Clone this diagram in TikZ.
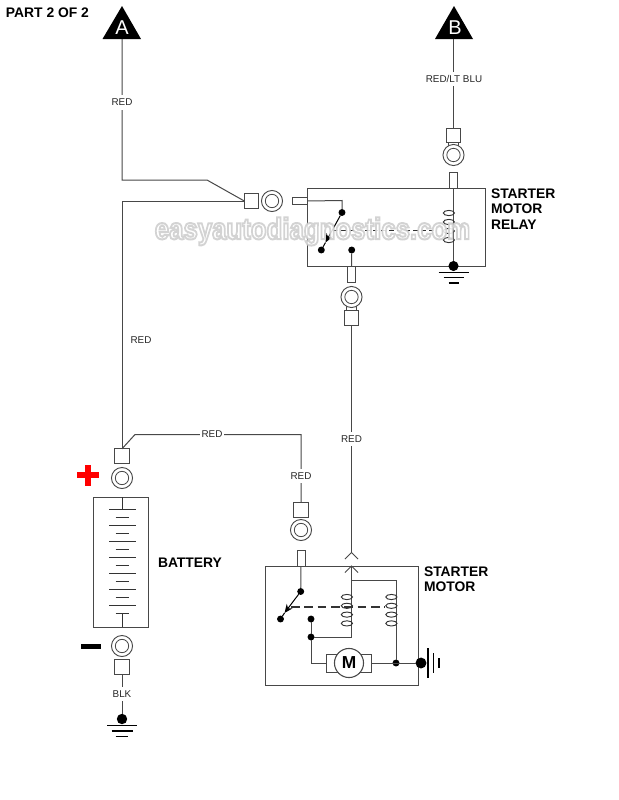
\documentclass[tikz,border=0pt]{standalone}
\usepackage{fontspec}
\setmainfont{Liberation Sans}
\usetikzlibrary{arrows.meta}
\definecolor{wire}{HTML}{484848}
\tikzset{
  x=0.75pt,y=-0.75pt,
  wirepath/.style={draw=wire,line width=0.75pt},
  box/.style={draw=wire,line width=0.75pt},
  sq/.style={draw=wire,line width=0.7pt,fill=white,minimum width=10.8pt,minimum height=10.8pt,inner sep=0pt,outer sep=0pt},
  ringo/.style={circle,draw=wire,line width=0.7pt,fill=white,minimum size=15.8pt,inner sep=0pt,outer sep=0pt},
  ringi/.style={circle,draw=wire,line width=0.6pt,minimum size=10pt,inner sep=0pt,outer sep=0pt},
  neck/.style={draw=wire,line width=0.7pt,double=white,double distance=6.8pt},
  pin/.style={draw=wire,line width=0.7pt,fill=white,inner sep=0pt,outer sep=0pt},
  lbl/.style={fill=white,inner sep=0pt,inner xsep=1.5pt,outer sep=0pt,minimum height=11pt,font=\fontsize{7.4pt}{9pt}\selectfont,text=black!85},
  head/.style={inner sep=0pt,outer sep=0pt,align=left,anchor=north west,font=\fontsize{10.4pt}{11.6pt}\selectfont\bfseries},
  dotb/.style={circle,fill=black,inner sep=0pt,outer sep=0pt,minimum size=5.2pt},
  dots/.style={circle,fill=black,inner sep=0pt,outer sep=0pt,minimum size=7.6pt},
  gnd/.style={draw=black,line width=1pt},
  plate/.style={draw=black!80,line width=0.7pt},
  coilloop/.style={draw=black!80,line width=0.7pt},
  linkage/.style={draw=black!80,dashed},
  armtip/.style={-{Stealth[length=6.5pt,width=5.5pt]}},
}
\newcommand{\lug}[4]{% ring name, ring pos, square name, square pos
  \path (#2) coordinate (#1c) (#4) coordinate (#3c);
  \draw[neck] (#1c) -- (#3c);
  \node[ringo] (#1) at (#1c) {};
  \node[ringi] at (#1c) {};
  \node[sq] (#3) at (#3c) {};
}
\newcommand{\coil}[3]{% x of wire, y start, step
  \foreach \k in {0,1,2,3} \draw[coilloop] (#1-4.6,#2+\k*#3) ellipse [x radius=5.6*0.75pt,y radius=2.6*0.75pt];
}
\begin{document}
\begin{tikzpicture}
\path[use as bounding box,fill=white] (0,0) rectangle (618,800);

% coordinates
\coordinate (Abase) at (122,39);
\coordinate (Bbase) at (453.5,39);
\coordinate (j1) at (122,180);
\coordinate (j2) at (207,180);
\coordinate (j3) at (122,201);
\coordinate (j4) at (135,434.5);
\coordinate (j5) at (301,434.5);

% triangles
\fill[black] (122,6) -- (141,39) -- (102.5,39) -- cycle;
\fill[black] (454,6) -- (473,39) -- (435,39) -- cycle;
\node[text=white,inner sep=0pt,font=\fontsize{15pt}{16pt}\selectfont] (A) at (122,27.5) {A};
\node[text=white,inner sep=0pt,font=\fontsize{15pt}{16pt}\selectfont] (B) at (455,27.5) {B};

% relay box
\draw[box] (307.5,188) rectangle (485,266);
% starter box
\draw[box] (265,566) rectangle (418.5,685);
% battery box
\draw[box] (93,497) rectangle (148,627);

% lugs
\lug{r1}{272,201}{s1}{251.5,201}
\lug{r2}{453.5,155}{s2}{453.5,135.5}
\lug{r3}{351.5,297}{s3}{351.5,318}
\lug{r4}{301,530}{s4}{301,510}
\lug{r5}{122,478}{s5}{122,456}
\lug{r6}{122,646}{s6}{122,667}

% pins
\node[pin,minimum width=15pt*0.75,minimum height=7.5pt*0.75] (p1) at (299.7,201) {};
\node[pin,minimum width=8pt*0.75,minimum height=16pt*0.75] (p2) at (453.5,180) {};
\node[pin,minimum width=8pt*0.75,minimum height=16pt*0.75] (p3) at (351.5,274) {};
\node[pin,minimum width=8pt*0.75,minimum height=16pt*0.75] (p4) at (301,558) {};

% main wires
\draw[wirepath] (Abase) -- (j1) -- (j2) -- (s1.west);
\draw[wirepath] (j3) -- (s1.west);
\draw[wirepath] (j3) -- (s5.north);
\draw[wirepath] (s5.north) -- (j4) -- (j5) -- (s4.north);
\draw[wirepath] (Bbase) -- (s2.north);
\draw[wirepath] (s3.south) -- (351.5,552.5);

% relay internals
\node[dotb] (d1) at (342,212.5) {};
\node[dotb] (d2) at (321.3,250) {};
\node[dotb] (d3) at (351.7,250) {};
\node[dots] (d4) at (453.5,266) {};
\draw[wirepath] (p1.east) -- (342,200.5) -- (d1);
\draw[wirepath,draw=black,armtip] (d1) -- (325.5,242.5);
\draw[wirepath,draw=black] (325.5,242.5) -- (d2);
\draw[wirepath] (d3) -- (p3.north);
\draw[wirepath] (p2.south) -- (d4);
\coil{453.5}{213}{9}
\draw[linkage,line width=0.7pt,dash pattern=on 3.5pt off 2.5pt] (333,230) -- (435,230);
\draw[gnd] (438.5,272.5) -- (468.5,272.5);
\draw[gnd] (443.5,277.5) -- (463.5,277.5);
\draw[gnd] (448.5,283) -- (458.5,283);

% starter internals
\node[dotb] (d5) at (300.7,591.5) {};
\node[dotb] (d6) at (280.5,619) {};
\node[dotb] (d7) at (311,619) {};
\node[dotb] (d8) at (311,637) {};
\node[dotb] (d9) at (396,663) {};
\node[dots,minimum size=8.2pt] (d10) at (421,663) {};
\draw[wirepath] (p4.south) -- (d5);
\draw[wirepath,draw=black,armtip] (d5) -- (284.5,613);
\draw[wirepath,draw=black] (284.5,613) -- (d6);
\draw[wirepath] (351.5,566) -- (351.5,637) -- (d8);
\draw[wirepath] (351.5,580) -- (396,580) -- (d9);
\draw[wirepath] (d7) -- (d8);
\coil{351.5}{597}{8.8}
\coil{396}{597}{8.8}
\draw[linkage,line width=1pt,dash pattern=on 6.5pt off 3.5pt] (291,607) -- (385,607);
\draw[wirepath] (345,559) -- (351.5,552.5) -- (358,559);
\draw[wirepath] (345,572.5) -- (351.5,566) -- (358,572.5);
% motor
\draw[box,fill=white] (326,654) rectangle (371,672);
\node[circle,draw=wire,line width=0.8pt,fill=white,minimum size=21.8pt,inner sep=0pt,font=\fontsize{13pt}{14pt}\selectfont\bfseries] (M) at (349,663) {M};
\draw[wirepath] (d8) -- (311,663) -- (326,663);
\draw[wirepath] (371,663) -- (d10);
\draw[gnd] (428,648) -- (428,678);
\draw[gnd] (433.5,653) -- (433.5,673);
\draw[gnd] (439,658) -- (439,668);

% battery internals
\foreach \y in {509.5,525.5,541.5,557.5,573.5,589.5,605.3}
  \draw[plate] (109,\y) -- (135.5,\y);
\foreach \y in {517,533,549,565,581,597,613.7}
  \draw[plate] (115.5,\y) -- (129,\y);
\draw[plate] (122,497) -- (122,509.5);
\draw[plate] (122,613.7) -- (122,627);
% battery negative
\node[dots,minimum size=7.8pt] (d11) at (122,719) {};
\draw[wirepath] (s6.south) -- (d11);
\draw[gnd] (107,725.7) -- (137,725.7);
\draw[gnd] (111.5,731) -- (132.5,731);
\draw[gnd] (115.7,736.8) -- (128,736.8);
% polarity
\fill[red] (77,472) rectangle (99.3,477.6);
\fill[red] (85.2,464.5) rectangle (90.8,485.5);
\fill[black] (81.3,643.7) rectangle (101,649.3);

% labels
\node[lbl] (l1) at (122,102.5) {RED};
\node[lbl] (l2) at (454,79) {RED/LT BLU};
\node[lbl] (l3) at (141,340) {RED};
\node[lbl] (l4) at (212,434.5) {RED};
\node[lbl] (l5) at (301,476) {RED};
\node[lbl] (l6) at (351.5,439) {RED};
\node[lbl] (l7) at (122,694) {BLK};

\node[head] (t0) at (6,8) {PART 2 OF 2};
\node[head] (t1) at (491,188.5) {STARTER\\MOTOR\\RELAY};
\node[head] (t2) at (424,566.5) {STARTER\\MOTOR};
\node[head] (t3) at (158,557.5) {BATTERY};

% watermark
\node[xscale=0.86,transform shape,opacity=0.85,inner sep=0pt,
  font=\fontsize{22.5pt}{26pt}\selectfont\bfseries] (wm) at (312.5,231.5)
  {\special{pdf:code q 2 Tr 1.5 w 0.8 0.8 0.8 RG 1 1 1 rg}easyautodiagnostics.com\special{pdf:code Q}};
\end{tikzpicture}
\end{document}
